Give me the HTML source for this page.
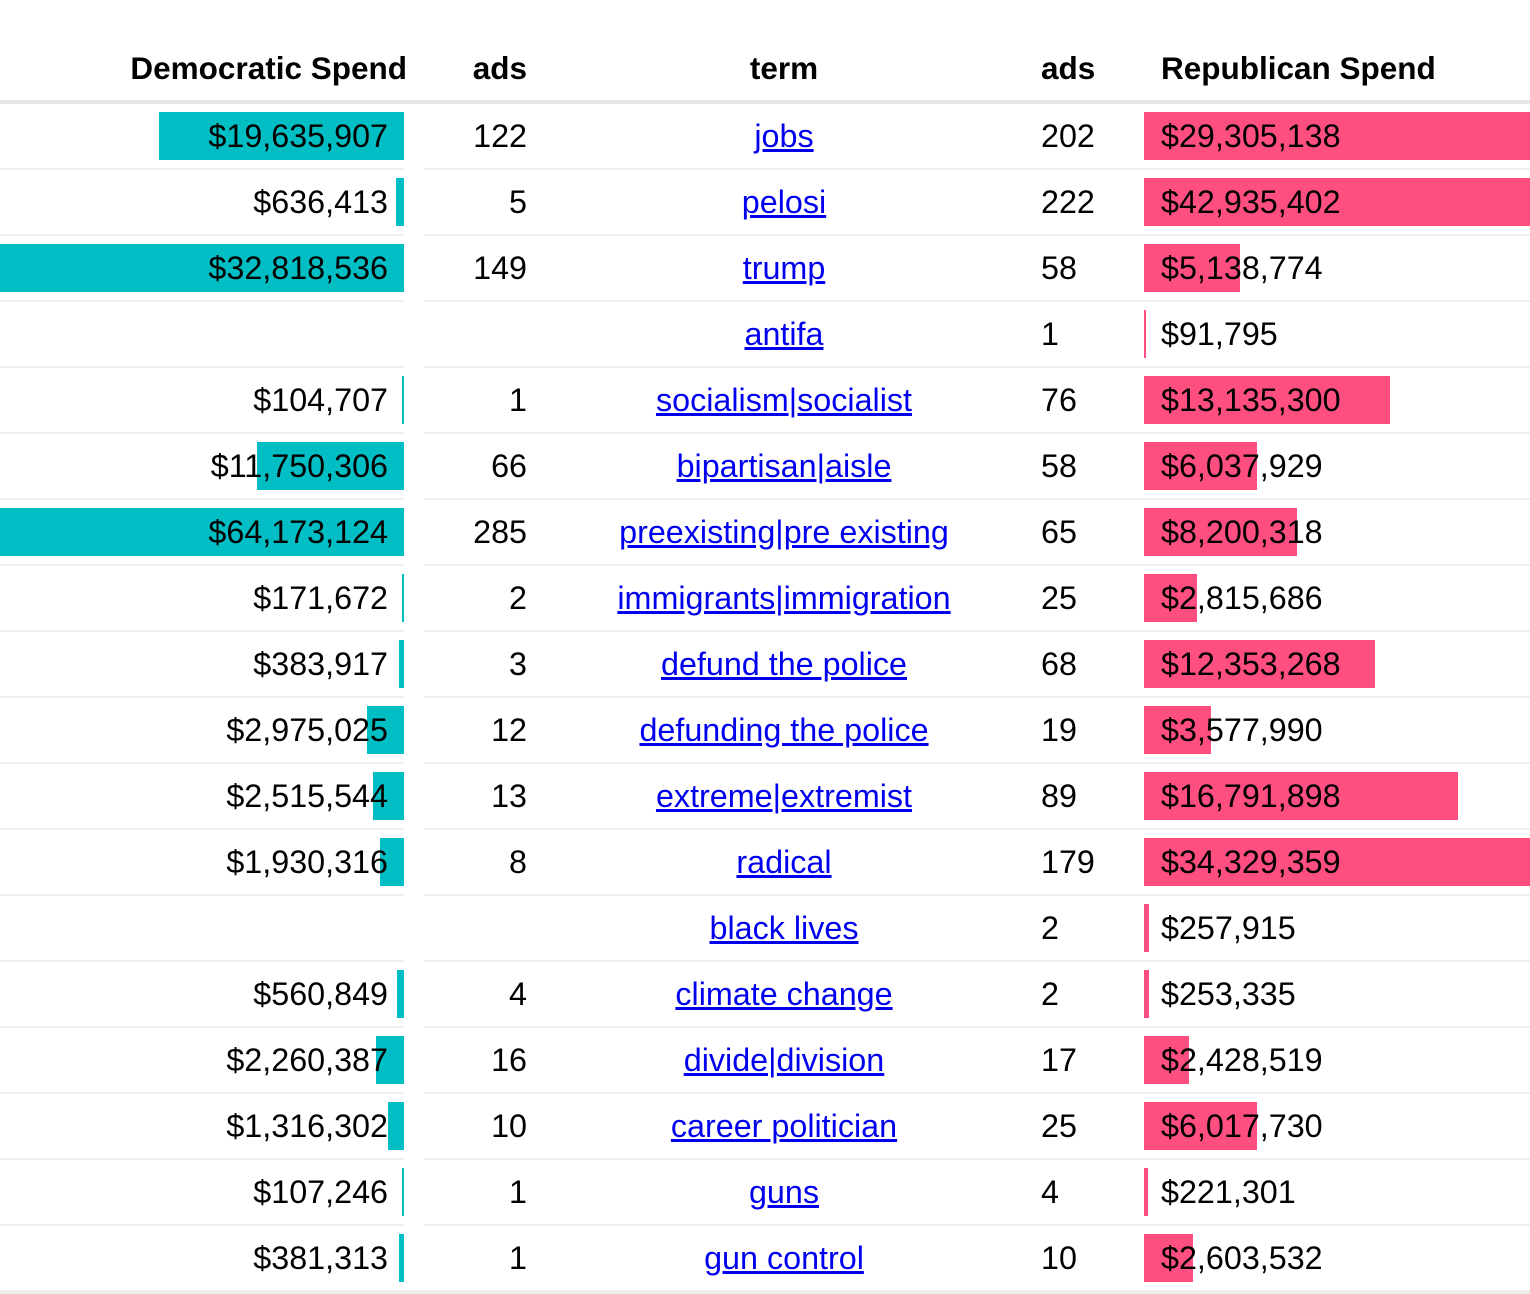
<!DOCTYPE html>
<html><head><meta charset="utf-8"><style>
body{margin:0;width:1530px;height:1294px;background:#fff;font-family:"Liberation Sans",Arial,sans-serif;position:relative;overflow:hidden}
.a{position:absolute;white-space:nowrap}
.h{font-weight:bold;font-size:31.5px;top:49px;line-height:38px}
.t{font-size:32.3px;line-height:36px}
a{color:#0000ee;text-decoration:underline}
</style></head><body>
<div class="a h" style="right:1123px">Democratic Spend</div>
<div class="a h" style="right:1003px">ads</div>
<div class="a h" style="left:684px;width:200px;text-align:center">term</div>
<div class="a h" style="left:1041px">ads</div>
<div class="a h" style="left:1161px">Republican Spend</div>
<div class="a" style="left:0;top:100px;width:1530px;height:4px;background:#e6e6e6"></div>
<div id="rows"></div>
<script>
const terms=["jobs","pelosi","trump","antifa","socialism|socialist","bipartisan|aisle","preexisting|pre existing","immigrants|immigration","defund the police","defunding the police","extreme|extremist","radical","black lives","climate change","divide|division","career politician","guns","gun control"];
const demSpend=[19635907,636413,32818536,null,104707,11750306,64173124,171672,383917,2975025,2515544,1930316,null,560849,2260387,1316302,107246,381313];
const demAds=[122,5,149,null,1,66,285,2,3,12,13,8,null,4,16,10,1,1];
const repAds=[202,222,58,1,76,58,65,25,68,19,89,179,2,2,17,25,4,10];
const repSpend=[29305138,42935402,5138774,91795,13135300,6037929,8200318,2815686,12353268,3577990,16791898,34329359,257915,253335,2428519,6017730,221301,2603532];
const demScale=v=>Math.max(2,Math.min(404,v*12.5e-6));
const repScale=v=>Math.max(2,Math.min(386,v*18.7e-6));
const fmt=v=>'$'+v.toLocaleString('en-US');
const R=document.getElementById('rows');
function mk(cls,style,html){const d=document.createElement('div');d.className=cls;d.style.cssText=style;if(html!=null)d.innerHTML=html;R.appendChild(d);return d;}
terms.forEach((t,i)=>{
 const top=104+66*i;
 const ty=top+14;
 if(demSpend[i]!=null){
  const w=demScale(demSpend[i]);
  const b=mk('a',`left:${404-w}px;top:${top+8}px;width:${w}px;height:48px;background:#00bec4`);
  
  
  const s=mk('a t',`right:${1530-388}px;top:${ty}px`,fmt(demSpend[i]));
  
  
  const d=mk('a t',`right:${1530-527}px;top:${ty}px`,demAds[i]);
  
  
 }
 const l=mk('a t',`left:534px;width:500px;text-align:center;top:${ty}px`,`<a href="#">${t}</a>`);
 
 
 const ra=mk('a t',`left:1041px;top:${ty}px`,repAds[i]);
 
 
 const w2=repScale(repSpend[i]);
 const rb=mk('a',`left:1144px;top:${top+8}px;width:${w2}px;height:48px;background:#ff4f80`);
 
 
 const rs=mk('a t',`left:1161px;top:${ty}px`,fmt(repSpend[i]));
 
 
 const last=i===terms.length-1;
 const s1=mk('a',`left:0;top:${top+64}px;width:404px;height:${last?4:2}px;background:#eeeeee`);
 
 
 const s2=mk('a',`left:${last?404:424}px;top:${top+64}px;width:${last?1126:1106}px;height:${last?4:2}px;background:#eeeeee`);
 
 
});
</script>
</body></html>
